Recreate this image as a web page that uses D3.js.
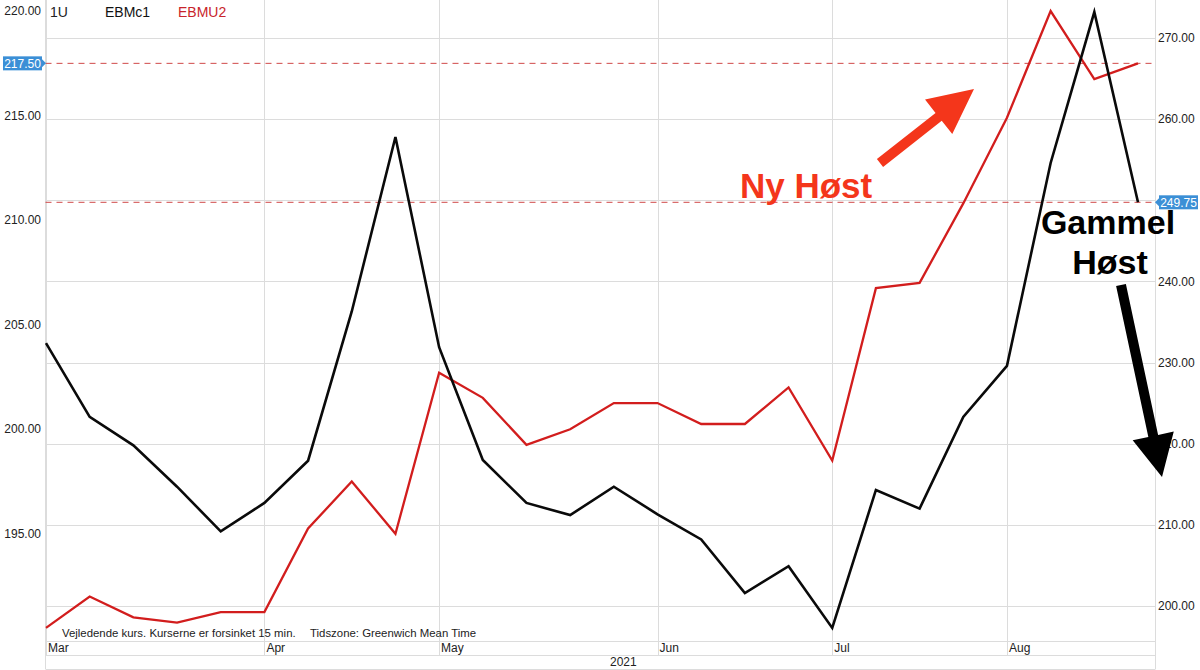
<!DOCTYPE html>
<html>
<head>
<meta charset="utf-8">
<script src="https://cdn.jsdelivr.net/npm/d3@7"></script>
<style>
  html, body { margin: 0; padding: 0; background: #fff; }
  svg { display: block; font-family: "Liberation Sans", Arial, Helvetica, sans-serif; }
</style>
</head>
<body>
<svg id="chart" width="1200" height="670"></svg>
<script>
// ---------- data ----------
const dates = ["2021-03-01","2021-03-08","2021-03-15","2021-03-22","2021-03-29",
  "2021-04-05","2021-04-12","2021-04-19","2021-04-26","2021-05-03","2021-05-10",
  "2021-05-17","2021-05-24","2021-05-31","2021-06-07","2021-06-14","2021-06-21",
  "2021-06-28","2021-07-05","2021-07-12","2021-07-19","2021-07-26","2021-08-02",
  "2021-08-09","2021-08-16","2021-08-23"];
// EBMc1 (black, right axis)
const ebmc1 = [232.4, 223.3, 219.8, 214.7, 209.2, 212.7, 217.9, 236.3, 257.8, 231.9,
  218.0, 212.7, 211.2, 214.7, 211.3, 208.2, 201.6, 204.9, 197.3, 214.3, 212.0,
  223.3, 229.6, 254.6, 273.2, 249.75];
// EBMU2 (red, left axis)
const ebmu2 = [190.5, 192.0, 191.0, 190.75, 191.25, 191.25, 195.25, 197.5, 195.0, 202.7,
  201.5, 199.25, 200.0, 201.25, 201.25, 200.25, 200.25, 202.0, 198.5, 206.75, 207.0,
  210.8, 214.9, 220.0, 216.75, 217.5];
const leftTicks = [195, 200, 205, 210, 215, 220];
const rightTicks = [200, 210, 220, 230, 240, 250, 260, 270];
const monthNames = ["Jan","Feb","Mar","Apr","May","Jun","Jul","Aug","Sep","Oct","Nov","Dec"];
const yearLabel = "2021";
const lastLeft = 217.50;
const lastRight = 249.75;
const legendItems = [["1U", "#222"], ["EBMc1", "#111"], ["EBMU2", "#c8242b"]];

// ---------- layout ----------
const svg = d3.select("#chart");
const plotL = 45.5, plotR = 1155.5, plotT = 0, plotB = 641;
const row1 = 655, row2 = 669;
const gridColor = "#dcdcdc";

const x = d3.scalePoint().domain(dates).range([46, 1138]);
const yR = d3.scaleLinear().domain([195.684, 274.683]).range([plotB, plotT]);
const yL = d3.scaleLinear().domain([189.87, 220.53]).range([plotB, plotT]);

// month ticks = first data point of each month
const monthTicks = dates.filter((d, i) => i === 0 || d.slice(5,7) !== dates[i-1].slice(5,7));

// horizontal grid (right axis ticks)
svg.append("g").selectAll("line").data(rightTicks).join("line")
  .attr("x1", plotL).attr("x2", plotR)
  .attr("y1", d => Math.round(yR(d)) + 0.5).attr("y2", d => Math.round(yR(d)) + 0.5)
  .attr("stroke", gridColor).attr("stroke-width", 1);

// vertical grid at months
svg.append("g").selectAll("line").data(monthTicks).join("line")
  .attr("x1", d => Math.round(x(d)) + 0.5).attr("x2", d => Math.round(x(d)) + 0.5)
  .attr("y1", plotT).attr("y2", row1)
  .attr("stroke", gridColor).attr("stroke-width", 1);

// frame
const frame = svg.append("g").attr("stroke", gridColor).attr("stroke-width", 1);
frame.append("line").attr("x1", plotL).attr("x2", plotL).attr("y1", 0).attr("y2", row2);
frame.append("line").attr("x1", plotR).attr("x2", plotR).attr("y1", 0).attr("y2", row2);
[plotB + 0.5, row1 + 0.5, row2 + 0.5].forEach(yy =>
  frame.append("line").attr("x1", plotL).attr("x2", plotR).attr("y1", yy).attr("y2", yy));

// dashed last-value lines
svg.append("line").attr("x1", plotL).attr("x2", plotR)
  .attr("y1", yL(lastLeft)).attr("y2", yL(lastLeft))
  .attr("stroke", "#d04848").attr("stroke-width", 1).attr("stroke-dasharray", "6,5");
svg.append("line").attr("x1", plotL).attr("x2", plotR)
  .attr("y1", yR(lastRight)).attr("y2", yR(lastRight))
  .attr("stroke", "#d04848").attr("stroke-width", 1).attr("stroke-dasharray", "6,5");

// series lines
const lineL = d3.line().x((d, i) => x(dates[i])).y(d => yL(d));
const lineR = d3.line().x((d, i) => x(dates[i])).y(d => yR(d));
svg.append("path").datum(ebmu2).attr("d", lineL)
  .attr("fill", "none").attr("stroke", "#d21d1d").attr("stroke-width", 2.3)
  .attr("stroke-linejoin", "miter");
svg.append("path").datum(ebmc1).attr("d", lineR)
  .attr("fill", "none").attr("stroke", "#0a0a0a").attr("stroke-width", 2.6)
  .attr("stroke-linejoin", "miter");

// left axis labels (hide the one covered by the value tag)
svg.append("g").selectAll("text")
  .data(leftTicks.filter(d => Math.abs(yL(d) - yL(lastLeft)) > 14)).join("text")
  .attr("x", 41).attr("y", d => yL(d)).attr("dy", "0.35em")
  .attr("text-anchor", "end").attr("font-size", 12).attr("fill", "#222")
  .text(d => d.toFixed(2));

// right axis labels (hide the one covered by the value tag)
svg.append("g").selectAll("text")
  .data(rightTicks.filter(d => Math.abs(yR(d) - yR(lastRight)) > 14)).join("text")
  .attr("x", 1158).attr("y", d => yR(d)).attr("dy", "0.35em")
  .attr("text-anchor", "start").attr("font-size", 12).attr("fill", "#222")
  .text(d => d.toFixed(2));

// month labels
svg.append("g").selectAll("text").data(monthTicks).join("text")
  .attr("x", d => x(d) + 2).attr("y", 652)
  .attr("font-size", 12).attr("fill", "#222")
  .text(d => monthNames[+d.slice(5,7) - 1]);
svg.append("text").attr("x", 610).attr("y", 666).attr("font-size", 12).attr("fill", "#222").text(yearLabel);

// legend
const legendX = [50, 105, 178];
legendItems.forEach((it, i) => {
  svg.append("text").attr("x", legendX[i]).attr("y", 17).attr("font-size", 14)
    .attr("fill", it[1]).text(it[0]);
});

// footnote
svg.append("text").attr("x", 62).attr("y", 637).attr("font-size", 11.4).attr("fill", "#222")
  .text("Vejledende kurs. Kurserne er forsinket 15 min.");
svg.append("text").attr("x", 310).attr("y", 637).attr("font-size", 11.4).attr("fill", "#222")
  .text("Tidszone: Greenwich Mean Time");

// blue value tags
const tagBlue = "#3b8fd6";
function tag(xBox, yc, w, label, pointerSide) {
  const g = svg.append("g");
  g.append("rect").attr("x", xBox).attr("y", yc - 7).attr("width", w).attr("height", 14).attr("fill", tagBlue);
  if (pointerSide === "right") {
    g.append("path").attr("d", `M${xBox + w},${yc - 4}L${xBox + w + 4},${yc}L${xBox + w},${yc + 4}Z`).attr("fill", tagBlue);
  } else {
    g.append("path").attr("d", `M${xBox},${yc - 4}L${xBox - 4},${yc}L${xBox},${yc + 4}Z`).attr("fill", tagBlue);
  }
  g.append("text").attr("x", xBox + w / 2).attr("y", yc).attr("dy", "0.36em")
    .attr("text-anchor", "middle").attr("font-size", 12).attr("fill", "#fff").text(label);
}
tag(3, yL(lastLeft), 39, lastLeft.toFixed(2), "right");
tag(1159, yR(lastRight), 39, lastRight.toFixed(2), "left");

// annotations
function arrow(x1, y1, x2, y2, headLen, headHalf, shaftHalf, color) {
  const dx = x2 - x1, dy = y2 - y1, L = Math.hypot(dx, dy);
  const ux = dx / L, uy = dy / L, nx = -uy, ny = ux;
  const bx = x2 - headLen * ux, by = y2 - headLen * uy;
  const pts = [
    [x1 + nx * shaftHalf, y1 + ny * shaftHalf],
    [bx + nx * shaftHalf, by + ny * shaftHalf],
    [bx + nx * headHalf, by + ny * headHalf],
    [x2, y2],
    [bx - nx * headHalf, by - ny * headHalf],
    [bx - nx * shaftHalf, by - ny * shaftHalf],
    [x1 - nx * shaftHalf, y1 - ny * shaftHalf]
  ];
  svg.append("path").attr("d", "M" + pts.map(p => p.join(",")).join("L") + "Z").attr("fill", color);
}
const annoRed = "#f4361b";
svg.append("text").attr("x", 740).attr("y", 198).attr("font-size", 35).attr("font-weight", "bold")
  .attr("fill", annoRed).text("Ny Høst");
arrow(880, 163, 974, 89, 45, 22, 5, annoRed);

const gh = svg.append("text").attr("font-size", 34).attr("font-weight", "bold")
  .attr("fill", "#000").attr("text-anchor", "middle");
gh.append("tspan").attr("x", 1108).attr("y", 234).text("Gammel");
gh.append("tspan").attr("x", 1110).attr("y", 274).text("Høst");
arrow(1121, 285, 1162, 477, 42, 21, 5, "#000");
</script>
</body>
</html>
